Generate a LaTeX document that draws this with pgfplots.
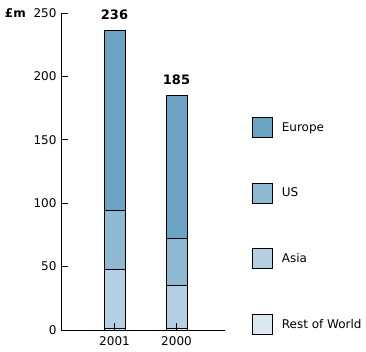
\documentclass[border=0pt]{standalone}
\usepackage{pgfplots}
\pgfplotsset{compat=1.18}
\usepackage{fontspec}
\setmainfont{DejaVu Sans}
\definecolor{europec}{HTML}{6AA3C3}
\definecolor{usc}{HTML}{8FB9D3}
\definecolor{asiac}{HTML}{B5D0E3}
\definecolor{rowc}{HTML}{DBE8F0}
\begin{document}
\begin{tikzpicture}
\useasboundingbox (-61pt,-21pt) rectangle (305pt,330pt);
\begin{axis}[
  at={(0pt,0pt)}, anchor=south west,
  scale only axis, width=164pt, height=317pt,
  xmin=-0.863, xmax=1.782, ymin=0, ymax=250,
  axis x line*=bottom, axis y line*=left,
  axis line style={-, black, line width=0.8pt},
  ybar stacked, bar width=21pt,
  xtick={0,1}, xticklabels={2001,2000},
  ytick={0,50,100,150,200,250},
  every tick/.style={black, line width=0.9pt},
  tick align=inside, major tick length=7pt,
  axis on top,
  /pgf/number format/assume math mode=true,
  tick label style={font=\fontsize{12}{14}\selectfont},
  yticklabel style={xshift=-1pt},
  xticklabel style={yshift=-3pt},
  every axis plot/.append style={draw=black, line width=0.6pt},
  legend image code/.code={\draw[#1, draw=black] (0pt,-10pt) rectangle (20pt,10pt);},
  reverse legend,
  legend cell align=left,
  legend style={draw=none, fill=none, at={(1.165,0.672)}, anchor=north west,
    font=\fontsize{12}{14}\selectfont, row sep=45pt, inner sep=0pt,
    nodes={inner sep=0pt}, column sep=9pt},
  clip=false,
]
\addplot[fill=rowc] coordinates {(0,1.5) (1,1.5)};
\addplot[fill=asiac] coordinates {(0,46.5) (1,33.5)};
\addplot[fill=usc] coordinates {(0,46.5) (1,37.5)};
\addplot[fill=europec] coordinates {(0,141.5) (1,112.5)};
\legend{Rest of World, Asia, US, Europe}
\draw[black, line width=0.9pt] (axis cs:-0.863,50) -- (axis cs:-0.75,50);
\draw[black, line width=0.9pt] (axis cs:-0.863,100) -- (axis cs:-0.75,100);
\draw[black, line width=0.9pt] (axis cs:-0.863,150) -- (axis cs:-0.75,150);
\draw[black, line width=0.9pt] (axis cs:-0.863,200) -- (axis cs:-0.75,200);
\draw[black, line width=0.9pt] (axis cs:-0.863,250) -- (axis cs:-0.75,250);
\node[font=\fontsize{13}{15}\selectfont\bfseries, anchor=base, yshift=11pt] at (axis cs:0,236) {236};
\node[font=\fontsize{13}{15}\selectfont\bfseries, anchor=base, yshift=11pt] at (axis cs:1,185) {185};
\node[font=\fontsize{12}{14}\selectfont\bfseries, anchor=east, inner sep=0pt, xshift=-35pt] at (axis cs:-0.863,250) {£m};
\end{axis}
\end{tikzpicture}
\end{document}
